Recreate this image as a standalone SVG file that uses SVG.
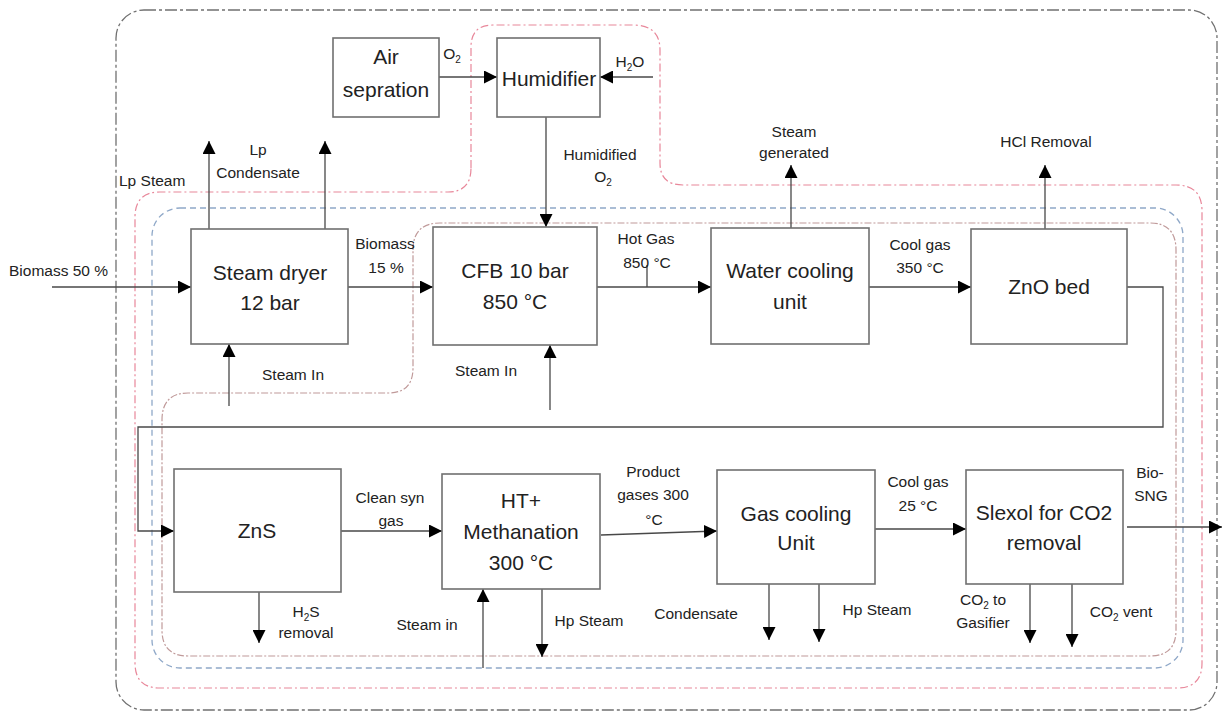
<svg xmlns="http://www.w3.org/2000/svg" width="1225" height="713" viewBox="0 0 1225 713">
<defs>
<marker id="ah" markerUnits="userSpaceOnUse" markerWidth="13" markerHeight="13" refX="13" refY="6.5" orient="auto">
<path d="M0,0 L13,6.5 L0,13 z" fill="#000"/>
</marker>
<style>
.box{fill:#fff;stroke:#707070;stroke-width:1.6}
.t{font-family:"Liberation Sans",Arial,sans-serif;font-size:21px;fill:#222;text-anchor:middle}
.l{font-family:"Liberation Sans",Arial,sans-serif;font-size:15.5px;fill:#222;text-anchor:middle}
.c{fill:none;stroke:#484848;stroke-width:1.3}
.a{marker-end:url(#ah)}
.b1{fill:none;stroke:#707070;stroke-width:1.3;stroke-dasharray:12 3 3 3}
.b2{fill:none;stroke:#e8879a;stroke-width:1.2;stroke-dasharray:8 3 2 3}
.b3{fill:none;stroke:#8fa8c8;stroke-width:1.3;stroke-dasharray:6 4}
.b4{fill:none;stroke:#c09a9a;stroke-width:1.2;stroke-dasharray:7 2 2 2}
</style>
</defs>
<rect width="1225" height="713" fill="#fff"/>
<g id="boundaries">
<rect class="b1" x="116" y="10" width="1101" height="700" rx="28" ry="28"/>
<path class="b2" d="M471,168 V47 Q471,25 493,25 H633 Q660,25 660,50 V163 Q660,185 683,185 H1176 Q1202,185 1202,211 V663 Q1202,688 1177,688 H160 Q135,688 135,663 V217 Q135,192 160,192 H448 Q471,192 471,168 Z"/>
<rect class="b3" x="152" y="208" width="1031" height="460" rx="28" ry="28"/>
<path class="b4" d="M413,250 Q413,223 440,223 H1150 Q1176,223 1176,250 V630 Q1176,656 1150,656 H188 Q162,656 162,630 V420 Q162,393 188,393 H388 Q413,393 413,368 Z"/>
</g>
<g id="connectors">
<line class="c a" x1="52" y1="287" x2="191" y2="287"/>
<line class="c a" x1="348" y1="287" x2="433" y2="287"/>
<line class="c a" x1="597" y1="287" x2="711" y2="287"/>
<line class="c" x1="647" y1="265" x2="647" y2="287"/>
<line class="c a" x1="869" y1="287" x2="971" y2="287"/>
<line class="c a" x1="791" y1="228" x2="791" y2="165"/>
<line class="c a" x1="1045" y1="229" x2="1045" y2="165"/>
<line class="c a" x1="209" y1="229" x2="209" y2="141"/>
<line class="c a" x1="325" y1="229" x2="325" y2="141"/>
<line class="c a" x1="229" y1="406" x2="229" y2="344"/>
<line class="c a" x1="550" y1="410" x2="550" y2="345"/>
<line class="c a" x1="439" y1="77" x2="497" y2="77"/>
<line class="c a" x1="653" y1="77" x2="600" y2="77"/>
<line class="c a" x1="546" y1="117" x2="546" y2="227"/>
<path class="c a" d="M1127,287 H1163 V427 H138 V531 H174"/>
<line class="c a" x1="341" y1="531" x2="442" y2="531"/>
<line class="c a" x1="259" y1="592" x2="259" y2="643"/>
<line class="c a" x1="483" y1="668" x2="483" y2="589"/>
<line class="c a" x1="542" y1="589" x2="542" y2="657"/>
<line class="c a" x1="601" y1="535" x2="717" y2="531"/>
<line class="c a" x1="870" y1="529" x2="966" y2="529"/>
<line class="c a" x1="769" y1="584" x2="769" y2="640"/>
<line class="c a" x1="819" y1="584" x2="819" y2="642"/>
<line class="c a" x1="1030" y1="584" x2="1030" y2="643"/>
<line class="c a" x1="1072" y1="584" x2="1072" y2="647"/>
<line class="c a" x1="1127" y1="527" x2="1222" y2="527"/>
</g>
<g id="labels">
<text class="l" x="452" y="59">O<tspan font-size="10" dy="4">2</tspan></text>
<text class="l" x="630" y="67">H<tspan font-size="10" dy="4">2</tspan><tspan dy="-4">O</tspan></text>
<text class="l" x="600" y="160">Humidified</text>
<text class="l" x="603" y="182">O<tspan font-size="10" dy="4">2</tspan></text>
<text class="l" x="258" y="155">Lp</text>
<text class="l" x="258" y="178">Condensate</text>
<text class="l" x="119" y="186" style="text-anchor:start">Lp Steam</text>
<text class="l" x="794" y="137">Steam</text>
<text class="l" x="794" y="158">generated</text>
<text class="l" x="1046" y="147">HCl Removal</text>
<text class="l" x="9" y="276" style="text-anchor:start">Biomass 50 %</text>
<text class="l" x="385" y="249">Biomass</text>
<text class="l" x="386" y="273">15 %</text>
<text class="l" x="646" y="244">Hot Gas</text>
<text class="l" x="647" y="268">850 °C</text>
<text class="l" x="920" y="250">Cool gas</text>
<text class="l" x="920" y="273">350 °C</text>
<text class="l" x="293" y="380">Steam In</text>
<text class="l" x="486" y="376">Steam In</text>
<text class="l" x="390" y="503">Clean syn</text>
<text class="l" x="391" y="526">gas</text>
<text class="l" x="306" y="617">H<tspan font-size="10" dy="4">2</tspan><tspan dy="-4">S</tspan></text>
<text class="l" x="306" y="638">removal</text>
<text class="l" x="427" y="630">Steam in</text>
<text class="l" x="589" y="626">Hp Steam</text>
<text class="l" x="653" y="477">Product</text>
<text class="l" x="653" y="500">gases 300</text>
<text class="l" x="654" y="525">°C</text>
<text class="l" x="918" y="487">Cool gas</text>
<text class="l" x="918" y="511">25 °C</text>
<text class="l" x="696" y="619">Condensate</text>
<text class="l" x="877" y="615">Hp Steam</text>
<text class="l" x="983" y="605">CO<tspan font-size="10" dy="4">2</tspan><tspan dy="-4"> to</tspan></text>
<text class="l" x="983" y="628">Gasifier</text>
<text class="l" x="1121" y="617">CO<tspan font-size="10" dy="4">2</tspan><tspan dy="-4"> vent</tspan></text>
<text class="l" x="1150" y="478">Bio-</text>
<text class="l" x="1151" y="501">SNG</text>
</g>
<g id="air-separation">
<rect class="box" x="333" y="38" width="106" height="79"/>
<text class="t" x="386" y="64">Air</text>
<text class="t" x="386" y="97">sepration</text>
</g>
<g id="humidifier">
<rect class="box" x="497" y="38" width="103" height="79"/>
<text class="t" x="549" y="86">Humidifier</text>
</g>
<g id="steam-dryer">
<rect class="box" x="191" y="229" width="157" height="115"/>
<text class="t" x="270" y="280">Steam dryer</text>
<text class="t" x="270" y="310">12 bar</text>
</g>
<g id="cfb">
<rect class="box" x="433" y="227" width="164" height="118"/>
<text class="t" x="515" y="278">CFB 10 bar</text>
<text class="t" x="515" y="309">850 °C</text>
</g>
<g id="water-cooling">
<rect class="box" x="711" y="228" width="158" height="116"/>
<text class="t" x="790" y="278">Water cooling</text>
<text class="t" x="790" y="309">unit</text>
</g>
<g id="zno-bed">
<rect class="box" x="971" y="229" width="156" height="115"/>
<text class="t" x="1049" y="294">ZnO bed</text>
</g>
<g id="zns">
<rect class="box" x="174" y="469" width="167" height="123"/>
<text class="t" x="257" y="538">ZnS</text>
</g>
<g id="methanation">
<rect class="box" x="442" y="474" width="158" height="115"/>
<text class="t" x="521" y="508">HT+</text>
<text class="t" x="521" y="539">Methanation</text>
<text class="t" x="521" y="570">300 °C</text>
</g>
<g id="gas-cooling">
<rect class="box" x="717" y="470" width="158" height="114"/>
<text class="t" x="796" y="521">Gas cooling</text>
<text class="t" x="796" y="550">Unit</text>
</g>
<g id="selexol">
<rect class="box" x="966" y="470" width="157" height="114"/>
<text class="t" x="1044" y="520">Slexol for CO2</text>
<text class="t" x="1044" y="550">removal</text>
</g>
</svg>
